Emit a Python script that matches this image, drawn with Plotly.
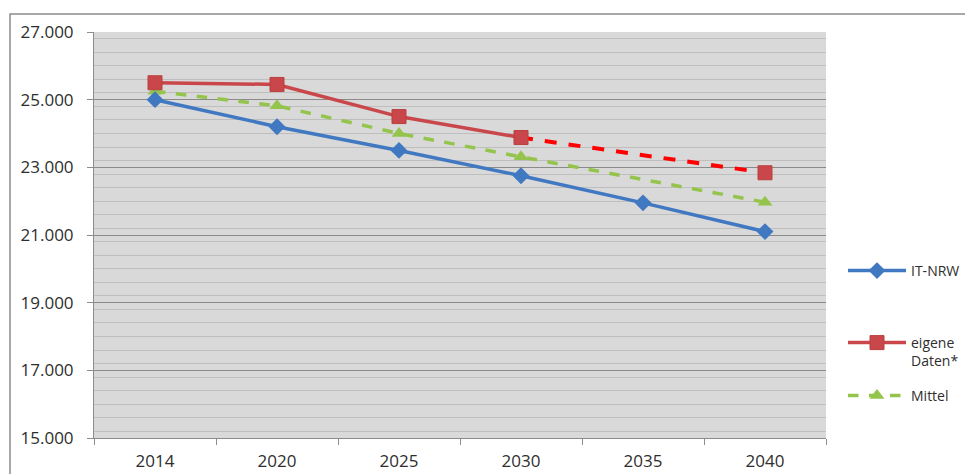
import plotly.graph_objects as go

years = ["2014", "2020", "2025", "2030", "2035", "2040"]
it_nrw = [25000, 24200, 23500, 22750, 21950, 21100]
eigene = [25500, 25450, 24500, 23880, None, 22840]
mittel = [25250, 24820, 24000, 23310, None, 21970]
y_ticks = [15000, 17000, 19000, 21000, 23000, 25000, 27000]

OFF = 8  # page body margin
W, H = 973 - OFF, 474 - OFF
L, R, T, B = 94 - OFF, 147, 32 - OFF, 36
pw, ph = W - L - R, H - T - B

def px(x):
    return (x - OFF - L) / pw

def py(y):
    return (H - B - (y - OFF)) / ph

fig = go.Figure()

# dashed forecast segment of "eigene Daten*" (2030 -> 2040)
fig.add_trace(go.Scatter(
    x=[years[3], years[5]], y=[eigene[3], eigene[5]],
    mode="lines", line=dict(color="#FF0000", width=4, dash="dash"),
    showlegend=False, hoverinfo="skip"))

fig.add_trace(go.Scatter(
    x=years, y=mittel, name="Mittel", mode="lines+markers", connectgaps=True,
    line=dict(color="#94C44C", width=3.5, dash="dash"),
    marker=dict(symbol="triangle-up", size=13, color="#94C44C"),
    legend="legend3"))

fig.add_trace(go.Scatter(
    x=years, y=it_nrw, name="IT-NRW", mode="lines+markers",
    line=dict(color="#4178C2", width=3.5),
    marker=dict(symbol="diamond", size=13, color="#4178C2"),
    legend="legend"))

fig.add_trace(go.Scatter(
    x=years, y=eigene, name="eigene<br>Daten*", mode="lines+markers", connectgaps=False,
    line=dict(color="#C9474A", width=3.5),
    marker=dict(symbol="square", size=14, color="#C9474A",
                line=dict(color="#B8403D", width=1)),
    legend="legend2"))

legend_common = dict(font=dict(family="Open Sans", size=14, color="#2E2E2E"),
                     bgcolor="rgba(0,0,0,0)", itemwidth=58, xanchor="left",
                     valign="top", tracegroupgap=0)

fig.update_layout(
    width=W, height=H,
    margin=dict(l=L, r=R, t=T, b=B, autoexpand=False),
    paper_bgcolor="white",
    plot_bgcolor="#D9D9D9",
    separators=",.",
    font=dict(family="Open Sans", color="#333333"),
    xaxis=dict(
        type="category", categoryorder="array", categoryarray=years,
        range=[-0.5, 5.5], showgrid=False, showline=True, linecolor="#8C8C8C",
        linewidth=1, ticks="outside", tickson="boundaries", ticklen=6,
        tickcolor="#8C8C8C", tickfont=dict(size=17, color="#2E2E2E"),
        ticklabelstandoff=8, zeroline=False, fixedrange=True),
    yaxis=dict(
        range=[15000, 27000], tickvals=y_ticks, tickformat=",d",
        showgrid=True, gridcolor="#8A8A8A", gridwidth=1,
        minor=dict(dtick=400, showgrid=True, gridcolor="#BEBEBE", gridwidth=1),
        showline=True, linecolor="#8C8C8C", linewidth=1,
        ticks="outside", ticklen=6, tickcolor="#8C8C8C",
        tickfont=dict(size=17, color="#2E2E2E"), ticklabelstandoff=10,
        zeroline=False, fixedrange=True),
    legend=dict(x=px(843), y=py(271), yanchor="middle", **legend_common),
    legend2=dict(x=px(843), y=py(327), yanchor="top", **legend_common),
    legend3=dict(x=px(843), y=py(396), yanchor="middle", **legend_common),
    shapes=[dict(type="rect", xref="paper", yref="paper",
                 x0=px(10), x1=px(971), y0=py(490), y1=py(14),
                 line=dict(color="#8C8C8C", width=1.5), layer="below")],
)

fig.write_html("out.html")
